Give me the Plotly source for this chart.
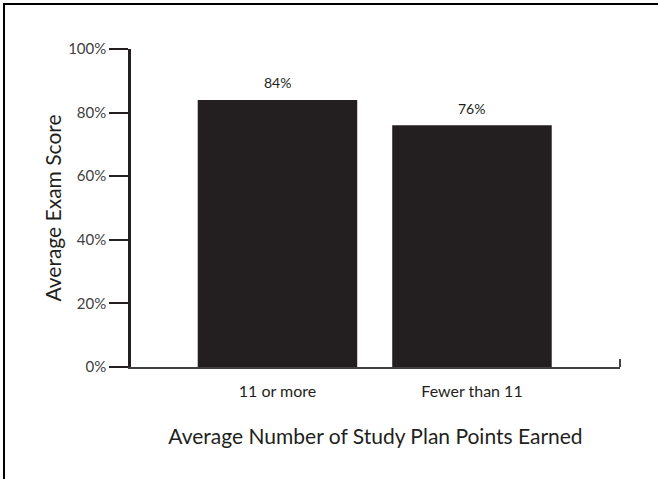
import plotly.graph_objects as go

categories = ["11 or more", "Fewer than 11"]
scores = [84, 76]
y_ticks = [0, 20, 40, 60, 80, 100]
y_tick_labels = [f"{v}%" for v in y_ticks]

INK = "#231f20"
FONT = "Lato"

fig = go.Figure()
fig.add_trace(go.Bar(
    x=categories, y=scores, width=0.82,
    marker=dict(color=INK, line=dict(width=0)),
    text=[f"{v}%" for v in scores], textposition="none",
    hoverinfo="skip", showlegend=False,
))

for c, v in zip(categories, scores):
    fig.add_annotation(x=c, y=v, xref="x", yref="y", text=f"{v}%", showarrow=False,
                       yshift=17, font=dict(family=FONT, size=14, color=INK))

fig.update_layout(
    width=658, height=479,
    margin=dict(l=131, r=38, t=49, b=112, autoexpand=False),
    paper_bgcolor="white", plot_bgcolor="white",
    font=dict(family=FONT, color=INK),
    xaxis=dict(
        range=[-0.753, 1.761], showgrid=False, zeroline=False,
        showline=True, linecolor="#414042", linewidth=2,
        ticks="outside", ticklen=9, tickcolor="rgba(0,0,0,0)",
        tickfont=dict(family=FONT, size=16, color=INK),
        title=dict(text="Average Number of Study Plan Points Earned",
                   font=dict(family=FONT, size=21, color=INK), standoff=30),
        automargin=False, fixedrange=True,
    ),
    yaxis=dict(
        range=[0, 100], tickvals=y_ticks, ticktext=y_tick_labels,
        showgrid=False, zeroline=False,
        showline=True, linecolor=INK, linewidth=2.5,
        ticks="outside", ticklen=19, tickwidth=2, tickcolor=INK,
        tickfont=dict(family=FONT, size=15, color="#414042"),
        title=dict(text="Average Exam Score",
                   font=dict(family=FONT, size=21, color=INK), standoff=1),
        automargin=False, fixedrange=True,
    ),
    shapes=[
        dict(type="rect", xref="paper", yref="paper",
             x0=-0.2597, x1=1.2, y0=1.1415, y1=-0.5,
             line=dict(color="black", width=2), fillcolor="rgba(0,0,0,0)", layer="below"),
        dict(type="line", xref="paper", yref="y", ysizemode="pixel", yanchor=0,
             x0=1, x1=1, y0=0, y1=8, line=dict(color="#414042", width=2)),
    ],
)

fig.write_html("out.html", config={"displayModeBar": False},
               post_script="document.body.style.margin='0';document.body.style.padding='0';")
